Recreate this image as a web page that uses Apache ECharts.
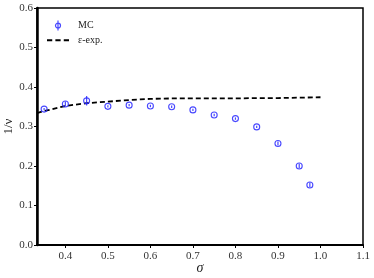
<!DOCTYPE html>
<html>
<head>
<meta charset="utf-8">
<script src="https://cdn.jsdelivr.net/npm/echarts@6/dist/echarts.min.js"></script>
<style>html,body{margin:0;padding:0;background:#fff}#c{width:374px;height:278px}</style>
</head>
<body>
<div id="c"></div>
<script>
// MC data: sigma, 1/nu, error
const mcSigma = [0.35, 0.40, 0.45, 0.50, 0.55, 0.60, 0.65, 0.70, 0.75, 0.80, 0.85, 0.90, 0.95, 0.975];
const mcValue = [0.344, 0.357, 0.365, 0.351, 0.354, 0.352, 0.350, 0.342, 0.329, 0.320, 0.299, 0.257, 0.200, 0.152];
const mcError = [0.003, 0.006, 0.012, 0.003, 0.003, 0.003, 0.003, 0.003, 0.003, 0.003, 0.003, 0.005, 0.006, 0.006];
// epsilon-expansion curve
const epsSigma = [0.3333, 0.35, 0.40, 0.45, 0.50, 0.55, 0.60, 0.65, 0.70, 0.75, 0.80, 0.85, 0.90, 0.95, 1.00];
const epsValue = [0.334, 0.339, 0.352, 0.359, 0.363, 0.367, 0.370, 0.371, 0.371, 0.371, 0.371, 0.372, 0.372, 0.373, 0.374];
const xTicks = [0.4, 0.5, 0.6, 0.7, 0.8, 0.9, 1.0, 1.1];
const yTicks = [0.0, 0.1, 0.2, 0.3, 0.4, 0.5, 0.6];

const blue = 'rgba(40,40,255,0.85)';
const font = 'Liberation Serif';

const chart = echarts.init(document.getElementById('c'), null, {renderer: 'canvas'});
chart.setOption({
  animation: false,
  backgroundColor: '#fff',
  grid: {left: 37, top: 8, right: 11, bottom: 33, outerBoundsMode: 'none', containLabel: false,
         show: true, borderColor: '#000', borderWidth: 1.5, backgroundColor: 'transparent'},
  legend: {
    orient: 'vertical', left: 42, top: 15, itemWidth: 22, itemHeight: 10, itemGap: 4,
    textStyle: {fontFamily: font, fontSize: 10, color: '#222', padding: [0, 0, 0, 4]},
    data: [
      {name: 'MC', icon: 'path://M5 0 L5 12 M5 3 A3 3 0 1 1 5 9 A3 3 0 1 1 5 3 Z',
       itemStyle: {color: 'transparent', borderColor: blue, borderWidth: 1.2}},
      {name: 'ε-exp.', icon: 'path://M0 0 L5 0 L5 2 L0 2 Z M8 0 L13 0 L13 2 L8 2 Z M16 0 L21 0 L21 2 L16 2 Z',
       itemStyle: {color: '#000', borderWidth: 0}}
    ]
  },
  xAxis: {
    type: 'value', min: 0.3333, max: 1.1,
    name: 'σ', nameLocation: 'middle', nameGap: 16, nameMoveOverlap: false,
    nameTextStyle: {fontFamily: font, fontSize: 14, fontStyle: 'italic', color: '#222'},
    axisLine: {show: true, onZero: false, lineStyle: {color: '#000', width: 2}},
    axisTick: {show: true, length: 3, lineStyle: {color: '#000', width: 1}, customValues: xTicks},
    axisLabel: {fontFamily: font, fontSize: 11, color: '#333', margin: 6, customValues: xTicks,
      formatter: v => v.toFixed(1)},
    splitLine: {show: false}
  },
  yAxis: {
    type: 'value', min: 0, max: 0.6, interval: 0.1,
    name: '1/ν', nameLocation: 'middle', nameGap: 22, nameRotate: 90, nameMoveOverlap: false,
    nameTextStyle: {fontFamily: font, fontSize: 13, color: '#222'},
    axisLine: {show: true, lineStyle: {color: '#000', width: 2.5}},
    axisTick: {show: true, length: 3, lineStyle: {color: '#000', width: 1}, customValues: yTicks},
    axisLabel: {fontFamily: font, fontSize: 11, color: '#333', margin: 4, customValues: yTicks,
      formatter: v => v.toFixed(1)},
    splitLine: {show: false}
  },
  series: [
    {
      name: 'MC', type: 'custom',
      itemStyle: {color: blue},
      data: mcSigma.map((s, i) => [s, mcValue[i], mcError[i]]),
      encode: {x: 0, y: 1},
      renderItem: function (params, api) {
        const x = api.value(0), y = api.value(1), e = api.value(2);
        const c = api.coord([x, y]);
        const lo = api.coord([x, y - e]);
        const hi = api.coord([x, y + e]);
        return {
          type: 'group',
          children: [
            {type: 'line', shape: {x1: c[0], y1: hi[1], x2: c[0], y2: lo[1]},
             style: {stroke: blue, lineWidth: 1.2}},
            {type: 'circle', shape: {cx: c[0], cy: c[1], r: 3},
             style: {fill: 'none', stroke: blue, lineWidth: 1.1}}
          ]
        };
      },
      z: 3
    },
    {
      name: 'ε-exp.', type: 'line', symbol: 'none', showSymbol: false,
      data: epsSigma.map((s, i) => [s, epsValue[i]]),
      lineStyle: {color: '#000', width: 1.8, type: [5, 3]},
      itemStyle: {color: '#000'},
      z: 2
    }
  ]
});
</script>
</body>
</html>
